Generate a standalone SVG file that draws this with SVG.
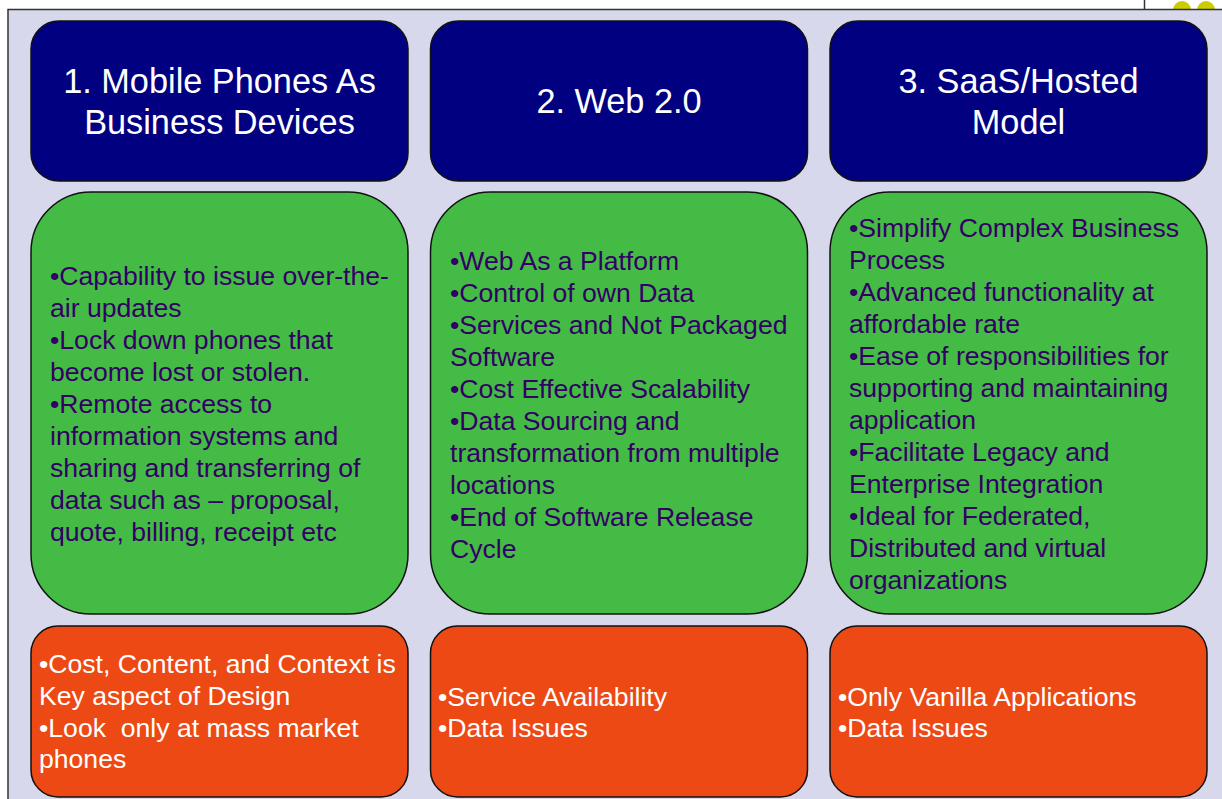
<svg xmlns="http://www.w3.org/2000/svg" width="1222" height="799" viewBox="0 0 1222 799">
<style>
text{font-family:"Liberation Sans",Arial,sans-serif;}
.title{fill:#ffffff;font-size:34.3px;text-anchor:middle;}
.navy{fill:#000080;stroke:#111;stroke-width:1.5;}
.green{fill:#44bb44;stroke:#111;stroke-width:1.5;}
.orange{fill:#ec4915;stroke:#111;stroke-width:1.5;}
.gt{fill:#330066;font-size:26.6px;}
.ot{fill:#ffffff;font-size:26.6px;white-space:pre;}
</style>
<rect x="0" y="0" width="1222" height="799" fill="#ffffff"/>
<circle cx="1182" cy="10" r="9" fill="#cccc00"/>
<circle cx="1206" cy="10" r="9" fill="#cccc00"/>
<line x1="1144.5" y1="0" x2="1144.5" y2="10" stroke="#333" stroke-width="1.5"/>
<rect x="8" y="9.5" width="1230" height="800" fill="#d8d8ec" stroke="#333" stroke-width="1.5"/>

<g id="h1"><rect class="navy" x="31" y="21" width="377" height="160" rx="28"/>
<text class="title" x="219.5" y="93">1. Mobile Phones As</text>
<text class="title" x="219.5" y="134">Business Devices</text></g>
<g id="h2"><rect class="navy" x="430.5" y="21" width="377" height="160" rx="28"/>
<text class="title" x="619" y="113">2. Web 2.0</text></g>
<g id="h3"><rect class="navy" x="830" y="21" width="377" height="160" rx="28"/>
<text class="title" x="1018.5" y="93">3. SaaS/Hosted</text>
<text class="title" x="1018.5" y="134">Model</text></g>

<g id="g1"><rect class="green" x="31" y="192" width="377" height="422" rx="60"/>
<text class="gt" x="50" y="285">•Capability to issue over-the-</text>
<text class="gt" x="50" y="317">air updates</text>
<text class="gt" x="50" y="349">•Lock down phones that</text>
<text class="gt" x="50" y="381">become lost or stolen.</text>
<text class="gt" x="50" y="413">•Remote access to</text>
<text class="gt" x="50" y="445">information systems and</text>
<text class="gt" x="50" y="477">sharing and transferring of</text>
<text class="gt" x="50" y="509">data such as – proposal,</text>
<text class="gt" x="50" y="541">quote, billing, receipt etc</text></g>
<g id="g2"><rect class="green" x="430.5" y="192" width="377" height="422" rx="60"/>
<text class="gt" x="450" y="270">•Web As a Platform</text>
<text class="gt" x="450" y="302">•Control of own Data</text>
<text class="gt" x="450" y="334">•Services and Not Packaged</text>
<text class="gt" x="450" y="366">Software</text>
<text class="gt" x="450" y="398">•Cost Effective Scalability</text>
<text class="gt" x="450" y="430">•Data Sourcing and</text>
<text class="gt" x="450" y="462">transformation from multiple</text>
<text class="gt" x="450" y="494">locations</text>
<text class="gt" x="450" y="526">•End of Software Release</text>
<text class="gt" x="450" y="558">Cycle</text></g>
<g id="g3"><rect class="green" x="830" y="192" width="377" height="422" rx="60"/>
<text class="gt" x="849" y="237">•Simplify Complex Business</text>
<text class="gt" x="849" y="269">Process</text>
<text class="gt" x="849" y="301">•Advanced functionality at</text>
<text class="gt" x="849" y="333">affordable rate</text>
<text class="gt" x="849" y="365">•Ease of responsibilities for</text>
<text class="gt" x="849" y="397">supporting and maintaining</text>
<text class="gt" x="849" y="429">application</text>
<text class="gt" x="849" y="461">•Facilitate Legacy and</text>
<text class="gt" x="849" y="493">Enterprise Integration</text>
<text class="gt" x="849" y="525">•Ideal for Federated,</text>
<text class="gt" x="849" y="557">Distributed and virtual</text>
<text class="gt" x="849" y="589">organizations</text></g>

<g id="o1"><rect class="orange" x="31" y="626" width="377" height="171" rx="27"/>
<text class="ot" x="39" y="673">•Cost, Content, and Context is</text>
<text class="ot" x="39" y="705">Key aspect of Design</text>
<text class="ot" x="39" y="737">•Look  only at mass market</text>
<text class="ot" x="39" y="768">phones</text></g>
<g id="o2"><rect class="orange" x="430.5" y="626" width="377" height="171" rx="27"/>
<text class="ot" x="438" y="706">•Service Availability</text>
<text class="ot" x="438" y="737">•Data Issues</text></g>
<g id="o3"><rect class="orange" x="830" y="626" width="377" height="171" rx="27"/>
<text class="ot" x="838" y="706">•Only Vanilla Applications</text>
<text class="ot" x="838" y="737">•Data Issues</text></g>
<g id="connectors"></g>
</svg>
